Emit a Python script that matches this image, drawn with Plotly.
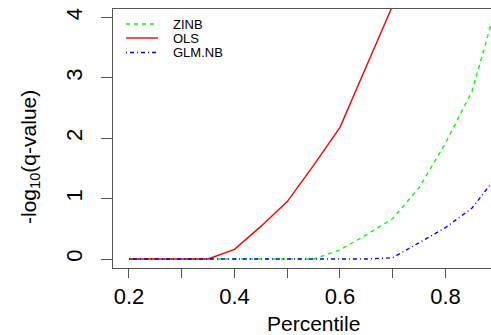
import plotly.graph_objects as go

# Percentile grid and -log10(q-value) for each method
percentile = [0.20, 0.25, 0.30, 0.35, 0.40, 0.45, 0.50, 0.55,
              0.60, 0.65, 0.70, 0.75, 0.80, 0.85, 0.90]
zinb = [0, 0, 0, 0, 0, 0, 0, 0, 0.15, 0.40, 0.67, 1.18, 1.92, 2.77, 4.30]
ols = [0, 0, 0, 0, 0.16, 0.54, 0.95, 1.55, 2.18, 3.20, 4.20]
glm_nb = [0, 0, 0, 0, 0, 0, 0, 0, 0, 0, 0.02, 0.27, 0.52, 0.84, 1.40]

x_major_ticks = [0.2, 0.4, 0.6, 0.8]
x_minor_ticks = [0.3, 0.5, 0.7]
y_ticks = [0, 1, 2, 3, 4]

FONT = "Liberation Sans, Arial, sans-serif"
AXIS_COLOR = "#555555"
W, H = 491, 335
L, R, T, B = 113, 0, 9, 67

series = [
    ("ZINB", percentile, zinb, "#00FF00", "4px,4px"),
    ("OLS", percentile[:len(ols)], ols, "#FF0000", "solid"),
    ("GLM.NB", percentile, glm_nb, "#0000FF", "1px,3px,4px,3px"),
]

fig = go.Figure()
for name, xs, ys, color, dash in series:
    fig.add_trace(go.Scatter(x=xs, y=ys, mode="lines", name=name,
                             line=dict(color=color, width=1.4, dash=dash)))


def px_to_paper(px, py):
    return (px - L) / (W - L - R), (H - B - py) / (H - T - B)


# Hand-drawn legend in the upper-left corner
shapes = []
annotations = []
legend_rows = [24, 38, 52.5]
for (name, _, _, color, dash), py in zip(series, legend_rows):
    x0, y0 = px_to_paper(126, py)
    x1, _ = px_to_paper(158, py)
    shapes.append(dict(type="line", xref="paper", yref="paper",
                       x0=x0, x1=x1, y0=y0, y1=y0,
                       line=dict(color=color, width=1.4, dash=dash)))
    tx, _ = px_to_paper(172, py)
    annotations.append(dict(text=name, xref="paper", yref="paper",
                            x=tx, y=y0, xanchor="left", yanchor="middle",
                            showarrow=False, borderpad=0,
                            font=dict(family=FONT, size=13, color="black")))

# Axis titles
ax, ay = px_to_paper(313, 323)
annotations.append(dict(text="Percentile", xref="paper", yref="paper",
                        x=ax, y=ay, xanchor="center", yanchor="middle",
                        showarrow=False,
                        font=dict(family=FONT, size=21, color="black")))
tx, ty = px_to_paper(30, 157)
annotations.append(dict(text="-log<sub>10</sub>(q-value)", xref="paper",
                        yref="paper", x=tx, y=ty, xanchor="center",
                        yanchor="middle", textangle=-90, showarrow=False,
                        font=dict(family=FONT, size=21, color="black")))

fig.update_layout(
    width=W, height=H,
    margin=dict(l=L, r=R, t=T, b=B, pad=0),
    paper_bgcolor="white", plot_bgcolor="white",
    showlegend=False,
    shapes=shapes, annotations=annotations,
    xaxis=dict(range=[0.1697, 0.8863], tickvals=x_major_ticks,
               ticktext=[f"{v:.1f}" for v in x_major_ticks],
               ticks="outside", ticklen=9, tickcolor=AXIS_COLOR, tickwidth=1,
               minor=dict(tickvals=x_minor_ticks, ticks="outside", ticklen=9,
                          tickcolor=AXIS_COLOR, tickwidth=1, showgrid=False),
               showline=True, linecolor=AXIS_COLOR, linewidth=1, mirror=True,
               showgrid=False, zeroline=False,
               tickfont=dict(family=FONT, size=22, color="black")),
    yaxis=dict(range=[-0.149, 4.14], tickvals=y_ticks,
               ticks="outside", ticklen=11, tickcolor=AXIS_COLOR, tickwidth=1,
               showline=True, linecolor=AXIS_COLOR, linewidth=1, mirror=False,
               showgrid=False, zeroline=False, tickangle=-90,
               ticklabelstandoff=10,
               tickfont=dict(family=FONT, size=22, color="black")),
)

fig.write_html("out.html")
